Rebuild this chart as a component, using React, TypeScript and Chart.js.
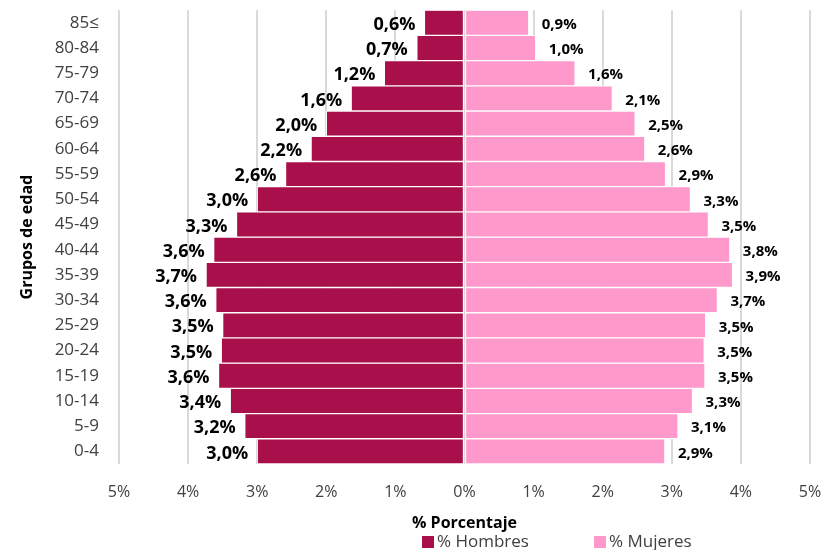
import React, { useEffect, useRef } from "react";
import { Chart, registerables } from "chart.js";

Chart.register(...registerables);

const FONT = '"Open Sans", "Noto Sans", sans-serif';

// Age groups from youngest (bottom) to oldest (top)
const ageGroups = [
  "0-4", "5-9", "10-14", "15-19", "20-24", "25-29", "30-34", "35-39", "40-44",
  "45-49", "50-54", "55-59", "60-64", "65-69", "70-74", "75-79", "80-84", "85≤",
];
const menPct = [
  3.0, 3.18, 3.39, 3.56, 3.52, 3.5, 3.6, 3.74, 3.63,
  3.3, 3.0, 2.59, 2.22, 2.0, 1.64, 1.16, 0.69, 0.58,
];
const womenPct = [
  2.9, 3.09, 3.3, 3.48, 3.47, 3.49, 3.66, 3.88, 3.84,
  3.53, 3.27, 2.91, 2.61, 2.47, 2.14, 1.6, 1.03, 0.93,
];
const seriesNames = ["% Hombres", "% Mujeres"];
const seriesColors = ["#A90F4B", "#FF99CC"];
const xMin = -5;
const xMax = 5;
const xStep = 1;
const xTitle = "% Porcentaje";
const yTitle = "Grupos de edad";

const fmt = (v: number) => Math.abs(v).toFixed(1).replace(".", ",") + "%";

const barLabelPlugin = {
  id: "barLabels",
  afterDatasetsDraw(chart: any) {
    const ctx = chart.ctx;
    chart.data.datasets.forEach((ds: any, di: number) => {
      const meta = chart.getDatasetMeta(di);
      meta.data.forEach((bar: any, i: number) => {
        const text = fmt(ds.data[i]);
        ctx.save();
        ctx.fillStyle = "#000";
        ctx.textBaseline = "middle";
        if (di === 0) {
          ctx.font = `bold 18px ${FONT}`;
          ctx.textAlign = "right";
          ctx.fillText(text, bar.x - 9, bar.y + 2);
        } else {
          ctx.font = `bold 15px ${FONT}`;
          ctx.textAlign = "left";
          ctx.fillText(text, bar.x + 13, bar.y + 2);
        }
        ctx.restore();
      });
    });
  },
};

const customLegendPlugin = {
  id: "customLegend",
  afterDraw(chart: any) {
    const ctx = chart.ctx;
    const ca = chart.chartArea;
    const cx = (ca.left + ca.right) / 2;
    const cy = 542;
    const offsets = [-42.5, 129.5];
    ctx.save();
    ctx.font = `17px ${FONT}`;
    ctx.textBaseline = "middle";
    ctx.textAlign = "left";
    seriesNames.forEach((name, i) => {
      const bx = cx + offsets[i];
      ctx.fillStyle = seriesColors[i];
      ctx.fillRect(bx, cy - 6, 12, 12);
      ctx.fillStyle = "#404040";
      ctx.fillText(name, bx + 15, cy);
    });
    ctx.restore();
  },
};

export default function App() {
  const canvasRef = useRef<HTMLCanvasElement | null>(null);

  useEffect(() => {
    if (!canvasRef.current) return;
    const chart = new Chart(canvasRef.current, {
      type: "bar",
      data: {
        labels: ageGroups,
        datasets: [
          {
            label: seriesNames[0],
            data: menPct.map((v) => -v),
            backgroundColor: seriesColors[0],
            borderColor: "#ffffff",
            borderWidth: 1,
            borderSkipped: false,
            barPercentage: 1,
            categoryPercentage: 1,
          },
          {
            label: seriesNames[1],
            data: womenPct,
            backgroundColor: seriesColors[1],
            borderColor: "#ffffff",
            borderWidth: 1,
            borderSkipped: false,
            barPercentage: 1,
            categoryPercentage: 1,
          },
        ],
      },
      options: {
        indexAxis: "y",
        animation: false,
        responsive: false,
        maintainAspectRatio: false,
        layout: { padding: { top: 10, right: 13, left: 0, bottom: 0 } },
        plugins: {
          legend: { display: false },
          tooltip: { enabled: false },
        },
        scales: {
          x: {
            type: "linear",
            min: xMin,
            max: xMax,
            stacked: true,
            ticks: {
              stepSize: xStep,
              callback: (v: any) => Math.abs(Number(v)) + "%",
              font: { size: 16, family: FONT },
              color: "#404040",
              padding: 0,
            },
            grid: {
              color: "#D9D9D9",
              lineWidth: 2,
              drawTicks: true,
              tickLength: 19,
              tickColor: "rgba(0,0,0,0)",
            },
            border: { display: false },
            title: {
              display: true,
              text: xTitle,
              font: { size: 16, weight: "bold", family: FONT },
              color: "#000",
              padding: { top: 0, bottom: 17.4 },
            },
            afterFit: (s: any) => {
              s.height = 86;
            },
          },
          y: {
            reverse: true,
            stacked: true,
            grid: {
              display: true,
              drawOnChartArea: false,
              drawTicks: true,
              tickLength: 20,
              color: "rgba(0,0,0,0)",
              tickColor: "rgba(0,0,0,0)",
            },
            border: { display: false },
            ticks: {
              autoSkip: false,
              font: { size: 17, family: FONT },
              color: "#404040",
              padding: 0,
            },
            title: {
              display: true,
              text: yTitle,
              font: { size: 16, weight: "bold", family: FONT },
              color: "#000",
              padding: { top: 17.4, bottom: 0 },
            },
            afterFit: (s: any) => {
              s.width = 119;
            },
          },
        },
      } as any,
      plugins: [barLabelPlugin, customLegendPlugin],
    });
    return () => chart.destroy();
  }, []);

  return (
    <div style={{ position: "absolute", left: 0, top: 0, width: 823, height: 550, background: "#fff" }}>
      <canvas ref={canvasRef} width={823} height={550} style={{ display: "block" }} />
    </div>
  );
}
